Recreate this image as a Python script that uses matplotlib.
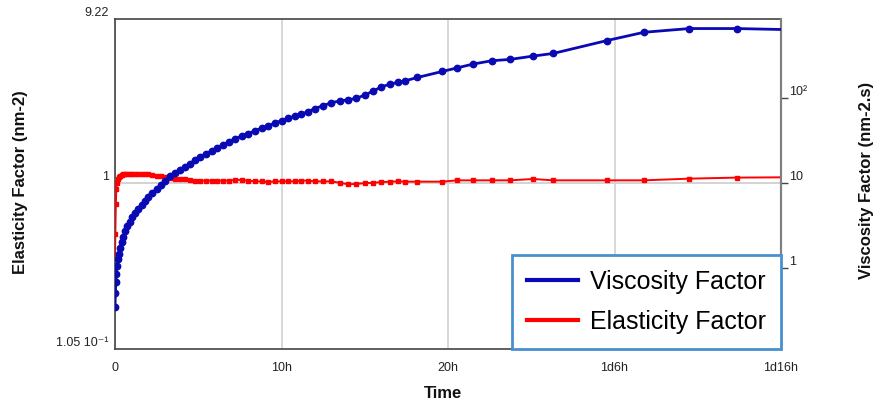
import matplotlib
matplotlib.use("Agg")
import matplotlib.pyplot as plt
from matplotlib.ticker import FixedLocator, FixedFormatter, NullLocator
from matplotlib.lines import Line2D

# ---- data (hours) ----
time_h = [0, 0.02, 0.05, 0.08, 0.12, 0.17, 0.23, 0.3, 0.4, 0.5, 0.62, 0.75, 0.9,
          1.05, 1.2, 1.4, 1.6, 1.8, 2.0, 2.25, 2.5, 2.75, 3.0, 3.3, 3.6, 3.9, 4.2,
          4.5, 4.8, 5.1, 5.45, 5.8, 6.15, 6.5, 6.85, 7.2, 7.6, 8.0, 8.4, 8.8, 9.2,
          9.6, 10.0, 10.4, 10.8, 11.2, 11.6, 12.0, 12.5, 13.0, 13.5, 14.0, 14.5,
          15.0, 15.5, 16.0, 16.5, 17.0, 17.42, 18.16, 19.66, 20.56, 21.49, 22.62,
          23.72, 25.12, 26.32, 29.53, 31.77, 34.49, 37.34, 39.94]

viscosity = [0.34, 0.5, 0.68, 0.85, 1.05, 1.25, 1.45, 1.7, 2.0, 2.3, 2.7, 3.1, 3.5,
             4.0, 4.4, 4.9, 5.5, 6.1, 6.8, 7.6, 8.5, 9.4, 10.6, 12.0, 13.0, 14.2, 15.3,
             16.8, 18.5, 20.3, 22.0, 23.8, 25.9, 28.0, 30.5, 33.0, 35.5, 38.0, 41.0,
             44.0, 47.0, 50.5, 54.0, 57.5, 61.0, 64.5, 69.0, 75.0, 81.0, 88.0, 92.0,
             95.0, 99.0, 108.0, 120.0, 135.0, 145.0, 153.0, 159, 174, 205, 226, 250,
             274, 284, 311, 334, 473, 593, 656, 656, 640]

elasticity = [0.37, 0.5, 0.75, 0.92, 1.0, 1.05, 1.08, 1.1, 1.11, 1.12, 1.12, 1.12,
              1.13, 1.13, 1.13, 1.13, 1.13, 1.12, 1.12, 1.11, 1.10, 1.09, 1.08, 1.07,
              1.06, 1.05, 1.05, 1.04, 1.03, 1.03, 1.03, 1.03, 1.03, 1.03, 1.03, 1.04,
              1.04, 1.03, 1.02, 1.02, 1.01, 1.02, 1.02, 1.02, 1.02, 1.03, 1.03, 1.02,
              1.02, 1.02, 1.0, 0.98, 0.985, 0.995, 1.0, 1.01, 1.015, 1.02, 1.016,
              1.016, 1.016, 1.034, 1.034, 1.034, 1.034, 1.053, 1.034, 1.034, 1.034,
              1.058, 1.073, 1.077]

x_ticks = [0, 10, 20, 30, 40]
x_ticklabels = ["0", "10h", "20h", "1d6h", "1d16h"]
left_ticks = [0.105, 1, 9.22]
left_ticklabels = ["1.05 10\u207b\u00b9", "1", "9.22"]
right_ticks = [1, 10, 100]
right_ticklabels = ["1", "10", "10\u00b2"]
left_lim = (0.105, 9.22)
right_lim = (0.1103, 850.0)

BLUE = "#0a0ab4"
RED = "#ff0000"
FONT = ["Liberation Sans", "DejaVu Sans"]
plt.rcParams["font.family"] = FONT

W, H = 880, 403
fig = plt.figure(figsize=(W / 100, H / 100), dpi=100)
ax = fig.add_axes([115 / W, (H - 349) / H, 666 / W, 330 / H])

ax.set_xlim(0, 40)
ax.set_yscale("log")
ax.set_ylim(*left_lim)
ax.yaxis.set_major_locator(FixedLocator(left_ticks))
ax.yaxis.set_major_formatter(FixedFormatter(left_ticklabels))
ax.yaxis.set_minor_locator(NullLocator())
ax.set_xticks(x_ticks)
ax.set_xticklabels(x_ticklabels)
ax.tick_params(axis="x", length=0, pad=9.5, labelsize=9, labelcolor="#222222")
ax.tick_params(axis="y", length=0, pad=4.5, labelsize=9, labelcolor="#222222")
for lbl in ax.get_yticklabels():
    lbl.set_va("bottom")

ax.grid(axis="x", color="#d4d4d4", lw=1.3)
ax.axhline(1, color="#d0d0d0", lw=1.3, zorder=1)

for s in ["left", "bottom", "top"]:
    ax.spines[s].set_color("#444444")
    ax.spines[s].set_linewidth(1.2)
ax.spines["right"].set_color("#808080")
ax.spines["right"].set_linewidth(1.5)

ax.plot(time_h, elasticity, color=RED, lw=1.4, marker="s", markersize=3.2,
        markevery=slice(0, len(time_h) - 1), zorder=3)

ax2 = ax.twinx()
ax2.set_yscale("log")
ax2.set_ylim(*right_lim)
ax2.yaxis.set_major_locator(FixedLocator(right_ticks))
ax2.yaxis.set_major_formatter(FixedFormatter(right_ticklabels))
ax2.yaxis.set_minor_locator(NullLocator())
ax2.tick_params(axis="y", length=5, width=1, pad=0.5, labelsize=9,
                labelcolor="#222222", color="#444444")
for lbl in ax2.get_yticklabels():
    lbl.set_va("bottom")
ax2.spines["right"].set_color("#808080")
ax2.spines["right"].set_linewidth(1.5)
for s in ["left", "bottom", "top"]:
    ax2.spines[s].set_visible(False)

ax2.plot(time_h, viscosity, color=BLUE, lw=2, marker="o", markersize=4.6,
         markevery=slice(0, len(time_h) - 1), zorder=3)

handles = [Line2D([], [], color=BLUE, lw=3), Line2D([], [], color=RED, lw=3)]
leg = ax2.legend(handles, ["Viscosity Factor", "Elasticity Factor"],
                 loc="lower right", bbox_to_anchor=(1.0, 0.0), borderaxespad=0,
                 frameon=True, fancybox=False, framealpha=1, edgecolor="#4a8fd0",
                 fontsize=18, handlelength=2.05, handletextpad=0.45, borderpad=0.62,
                 labelspacing=0.62)
leg.get_frame().set_linewidth(2)
leg.set_zorder(10)

fig.text(20 / W, 1 - 182 / H, "Elasticity Factor (nm-2)", rotation=90,
         ha="center", va="center", fontsize=12, fontweight="bold", color="#111111")
fig.text(866 / W, 1 - 180 / H, "Viscosity Factor (nm-2.s)", rotation=90,
         ha="center", va="center", fontsize=12, fontweight="bold", color="#111111")
fig.text(443 / W, 1 - 393 / H, "Time", ha="center", va="center",
         fontsize=12, fontweight="bold", color="#111111")

fig.savefig("out.png", dpi=100)
